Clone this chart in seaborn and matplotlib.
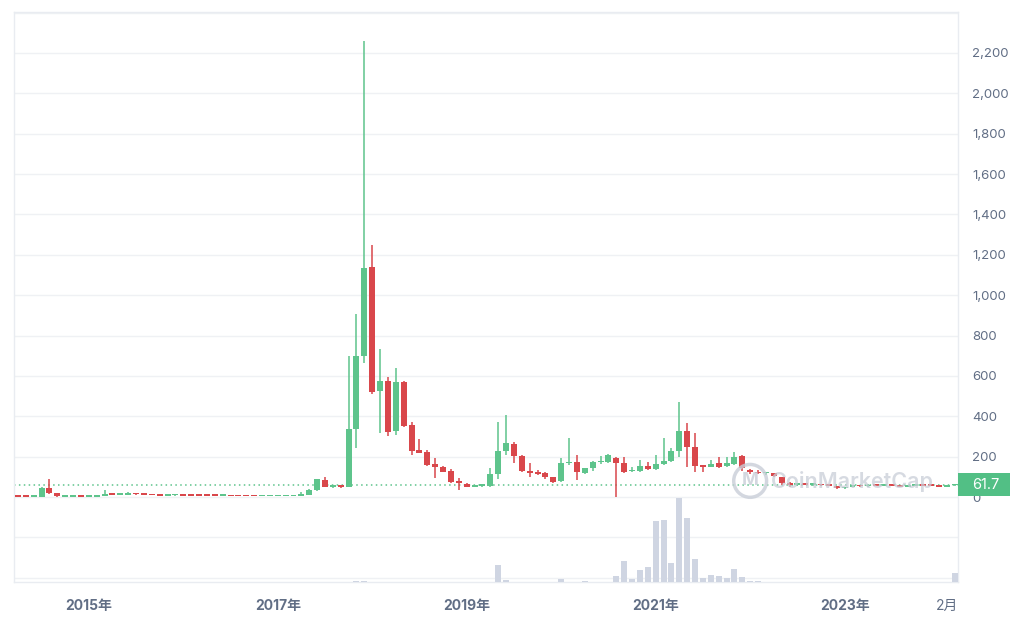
import numpy as np
import pandas as pd
import seaborn as sns
import matplotlib
matplotlib.use('Agg')
import matplotlib.pyplot as plt
from matplotlib.patches import Rectangle

# monthly candles, Apr 2014 .. Mar 2024
opens = [3, 1, 0.5, 2, 46, 20, 2, 2.5, 2.8,
         2, 2.5, 6, 12, 10, 12.5, 15, 13, 11.5, 9, 7, 8,
         8.5, 7, 6.5, 6, 5.5, 5, 5.5, 4.5, 4, 3.5, 3, 3.3,
         3.5, 3.8, 4.2, 5, 12, 33, 85, 52, 56, 51, 335, 698,
         1141, 525, 575, 327, 568, 357, 233, 224, 162, 147, 129, 78,
         63, 52, 55, 56, 114, 228, 261, 203, 129, 125, 117, 98,
         79, 167, 175, 120, 142, 172, 175, 195, 167, 127, 129, 154,
         139, 162, 180, 228, 328, 249, 158, 150, 167, 154, 163, 203,
         132, 122, 117, 117, 98, 68, 60, 65, 60, 63, 58, 55,
         44, 50, 58, 54, 62, 57, 60, 56, 52, 55, 60, 57,
         55, 52, 58]
highs = [4, 2, 2, 50, 89, 22, 3, 3, 3,
         3, 7, 35, 16, 13, 26, 17, 14, 12, 10, 9, 9,
         9, 7.5, 7, 6.5, 6, 6, 6, 5, 4.5, 4, 3.6, 3.8,
         4, 4.5, 5.5, 24, 38, 90, 99, 62, 60, 698, 905, 2260,
         1249, 732, 596, 638, 576, 373, 286, 233, 192, 154, 137, 93,
         68, 60, 58, 142, 373, 406, 274, 210, 170, 134, 125, 100,
         192, 294, 208, 145, 180, 203, 212, 200, 200, 150, 183, 175,
         208, 294, 241, 472, 365, 316, 160, 183, 200, 198, 221, 206,
         140, 135, 125, 120, 100, 72, 68, 68, 65, 66, 62, 57,
         52, 60, 60, 64, 64, 62, 62, 58, 57, 62, 63, 60,
         57, 60, 63]
lows = [1, 0.5, 0.5, 1, 15, 2, 1.5, 2, 1.8,
        1.5, 2.4, 5.5, 9, 9.5, 12, 12, 10, 8, 6, 6.5, 6,
        6.5, 6, 5.5, 5, 4.5, 4.5, 4.5, 3.8, 3.3, 2.8, 2.8, 3.1,
        3.3, 3.6, 4, 4, 10, 30, 48, 45, 44, 48, 241, 665,
        510, 316, 302, 307, 348, 208, 218, 154, 93, 122, 71, 35,
        48, 48, 50, 52, 88, 208, 170, 122, 98, 109, 88, 68,
        76, 160, 84, 115, 129, 165, 168, 0, 117, 124, 125, 134,
        133, 158, 175, 200, 150, 125, 125, 147, 145, 150, 160, 130,
        115, 112, 108, 100, 62, 50, 56, 58, 57, 56, 54, 42,
        42, 48, 52, 52, 55, 55, 54, 50, 50, 53, 55, 54,
        50, 50, 56]
closes = [1, 0.5, 2, 46, 18, 3, 2.5, 2.8, 2,
          2.5, 6, 12, 10, 12.5, 15, 13, 11.5, 9, 7, 8, 8.5,
          7, 6.5, 6, 5.5, 5, 5.5, 4.5, 4, 3.5, 3, 3.3, 3.5,
          3.8, 4.2, 5, 14, 35, 88, 52, 56, 52, 335, 698, 1133,
          519, 575, 324, 568, 352, 228, 220, 159, 147, 126, 76, 70,
          51, 55, 56, 114, 228, 266, 203, 129, 120, 114, 98, 76,
          170, 175, 125, 142, 172, 178, 208, 167, 125, 131, 154, 139,
          162, 180, 228, 328, 249, 155, 150, 163, 150, 167, 200, 142,
          122, 118, 120, 104, 71, 60, 65, 60, 63, 58, 55, 44,
          50, 58, 54, 62, 57, 60, 56, 52, 55, 60, 57, 55,
          52, 58, 61.7]
volume = [0, 0, 0, 0, 0, 0, 0, 0, 0,
          0, 0, 0, 0, 0, 0, 0, 0, 0, 0, 0, 0,
          0, 0, 0, 0, 0, 0, 0, 0, 0, 0, 0, 0,
          0, 0, 0, 0, 0, 0, 0, 0, 0, 0, 1.0, 0.5,
          0, 0, 0, 0, 0, 0, 0, 0, 0, 0, 0, 0,
          0, 0, 0, 0, 17, 2, 0, 0, 0, 0, 0, 0,
          2.5, 0, 0, 1.0, 0, 0, 0, 6, 21, 3.3, 12, 15.3,
          60.3, 61.3, 19.3, 83.7, 63.7, 23, 3.7, 7, 6, 3.7, 13, 5.3,
          1.3, 0.7, 0, 0, 0, 0, 0, 0, 0, 0, 0, 0,
          0, 0, 0, 0, 0, 0, 0, 0, 0, 0, 0, 0,
          0, 0, 8.7]
tick_months = [9, 33, 57, 81, 105, 118]
tick_labels = ['2015年', '2017年', '2019年', '2021年', '2023年', '2月']
last_price = 61.7

df = pd.DataFrame({'open': opens, 'high': highs, 'low': lows,
                   'close': closes, 'volume': volume})
df['m'] = np.arange(len(df))

GREEN = '#5ec48c'
RED = '#d9474b'
GRID = '#eff1f4'
TXT = '#616e85'

sns.set_theme(style='white')
plt.rcParams['font.family'] = ['Inter', 'Noto Sans CJK SC', 'DejaVu Sans']

fig = plt.figure(figsize=(10.24, 6.21), dpi=100)
ax = fig.add_axes([14 / 1024, 1 - 582 / 621, 944 / 1024, 570 / 621])

for yv in range(-400, 2401, 200):
    ax.axhline(yv, color=GRID, lw=1, zorder=0)

up = df['close'] >= df['open']
cols = np.where(up, GREEN, RED)
ax.vlines(df['m'], df['low'], df['high'], colors=cols, lw=1.1, zorder=2)
body_lo = np.minimum(df['open'], df['close'])
body_h = np.maximum(np.abs(df['close'] - df['open']), 8)
ax.bar(df['m'], body_h, bottom=body_lo, width=0.76, color=cols, lw=0, zorder=3)

ax.axhline(last_price, color=GREEN, lw=1.1, ls=(0, (1, 2.2)), zorder=1)

# volume on a hidden twin axis
axv = ax.twinx()
sns.barplot(data=df, x='m', y='volume', native_scale=True, ax=axv,
            color='#cfd5e2', width=0.76, linewidth=0, errorbar=None, saturation=1)
axv.set_ylim(0, max(volume) * 570 / 84)
axv.set_yticks([])
axv.set_ylabel('')
axv.set_xlabel('')
for s in axv.spines.values():
    s.set_visible(False)

ax.set_xlim(-0.5, 119.4)
axv.set_xlim(-0.5, 119.4)
ax.set_ylim(-421, 2403)
ax.yaxis.tick_right()
ax.yaxis.set_label_position('right')
ax.set_yticks(range(0, 2201, 200))
ax.set_yticklabels([f'{v:,}' for v in range(0, 2201, 200)], fontsize=9.5, color=TXT)
ax.tick_params(axis='y', which='both', left=False, right=True, labelleft=False,
               labelright=True, length=0, pad=10)
ax.set_xticks(tick_months)
ax.set_xticklabels(tick_labels, fontsize=10, color=TXT)
for lab in ax.get_xticklabels()[:-1]:
    lab.set_fontweight('bold')
ax.tick_params(axis='x', length=4, color='#e3e6ec', pad=8)
ax.set_xlabel('')
for s in ax.spines.values():
    s.set_color('#e9ecf1')
    s.set_linewidth(1)

# last price tag
tr = ax.get_yaxis_transform()
ax.add_patch(Rectangle((1.0, last_price - 56), 52 / 944, 112, transform=tr,
                       fc='#52bf85', ec='none', clip_on=False, zorder=6))
ax.text(1.0 + 14 / 944, last_price, '61.7', transform=tr, ha='left', va='center',
        fontsize=10.5, color='white', zorder=7, clip_on=False)

# watermark
ax.scatter([93], [80], s=560, facecolors='none', edgecolors='#c9ced8',
           linewidths=2.5, alpha=0.8, zorder=4)
ax.text(93, 80, 'M', fontsize=13, color='#c9ced8', ha='center', va='center',
        fontweight='bold', alpha=0.8, zorder=4)
ax.text(95.6, 78, 'CoinMarketCap', fontsize=15.5, color='#c9ced8',
        ha='left', va='center', fontweight='semibold', alpha=0.75, zorder=4)

fig.savefig('out.png', dpi=100)
